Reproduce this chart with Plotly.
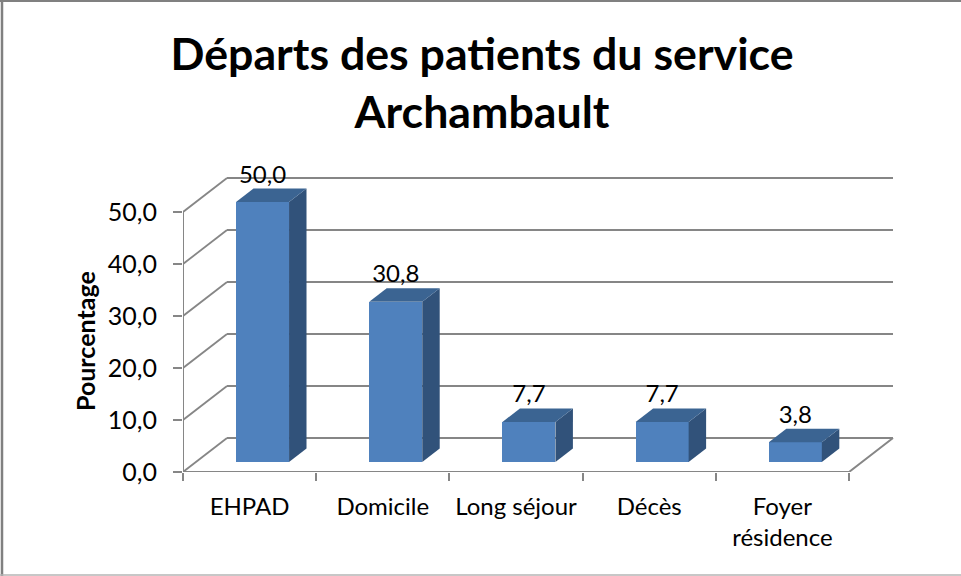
import plotly.graph_objects as go

categories = ["EHPAD", "Domicile", "Long séjour", "Décès", "Foyer<br>résidence"]
values = [50.0, 30.8, 7.7, 7.7, 3.8]
value_labels = ["50,0", "30,8", "7,7", "7,7", "3,8"]
y_ticks = [0, 10, 20, 30, 40, 50]
y_tick_labels = ["0,0", "10,0", "20,0", "30,0", "40,0", "50,0"]

# 3D projection of the wall, in axis units
DX = 44 / 133.2
DY = 34 / 5.2
BAR_W = 53 / 133.2
D0, D1 = 10 / 34, 23.5 / 34
N = len(categories)
GRID = "#868686"
FONT = "Lato, Carlito, sans-serif"
W, H = 961, 576
ML, MR, MT, MB = 183, 60, 170, 104


def proj(x, v, d):
    return x + d * DX, v + d * DY


def px(x):
    return (x - ML) / (W - ML - MR)


def py(y):
    return (H - MB - y) / (H - MT - MB)


fig = go.Figure()

# front faces
centers = [i + 0.5 for i in range(N)]
fig.add_trace(go.Bar(
    x=[proj(c, 0, D0)[0] for c in centers], y=values, base=[proj(0, 0, D0)[1]] * N,
    width=BAR_W, marker=dict(color="#4F81BD", line=dict(width=0)), hoverinfo="skip",
))

# side and top faces
for c, v in zip(centers, values):
    l, r = c - BAR_W / 2, c + BAR_W / 2
    side = [proj(r, 0, D0), proj(r, 0, D1), proj(r, v, D1), proj(r, v, D0)]
    top = [proj(l, v, D0), proj(l, v, D1), proj(r, v, D1), proj(r, v, D0)]
    for pts, col in ((side, "#31527A"), (top, "#3B6492")):
        fig.add_trace(go.Scatter(
            x=[p[0] for p in pts] + [pts[0][0]], y=[p[1] for p in pts] + [pts[0][1]],
            mode="lines", fill="toself", fillcolor=col, line=dict(width=0), hoverinfo="skip",
        ))

# value labels
fig.add_trace(go.Scatter(
    x=[proj(c, 0, D0)[0] for c in centers],
    y=[proj(0, v, D1)[1] for v in values],
    mode="text", text=value_labels, textposition="top center",
    textfont=dict(family=FONT, size=24, color="#000000"), cliponaxis=False, hoverinfo="skip",
))

# floor front edge, right floor edge and value axis line, unclipped
ex, ey = [], []
for pts in ([(0, 0), (N, 0), proj(N, 0, 1)], [(0, 0), (0, y_ticks[-1])]):
    ex += [p[0] for p in pts] + [None]
    ey += [p[1] for p in pts] + [None]
fig.add_trace(go.Scatter(x=ex, y=ey, mode="lines", line=dict(color=GRID, width=2),
                         cliponaxis=False, hoverinfo="skip"))

# walls: below the traces
shapes = []
for t in y_ticks:
    bx, by = proj(0, t, 1)
    shapes.append(dict(type="line", xref="x", yref="y", x0=0, y0=t, x1=bx, y1=by,
                       line=dict(color=GRID, width=1.8), layer="below"))
    ex2, _ = proj(N, t, 1)
    shapes.append(dict(type="line", xref="x", yref="y", x0=bx, y0=by, x1=ex2, y1=by,
                       line=dict(color=GRID, width=1.8), layer="below"))
# chart frame: left, top, bottom
for (x0, y0, x1, y1, col, wd) in ((2, 0, 2, 576, "#808080", 2.5),
                                  (0, 1, 961, 1, "#808080", 2),
                                  (0, 575, 961, 575, "#B4B4B4", 1.5)):
    shapes.append(dict(type="line", xref="paper", yref="paper", x0=px(x0), x1=px(x1),
                       y0=py(y0), y1=py(y1), line=dict(color=col, width=wd), layer="below"))

fig.update_layout(
    width=W, height=H, autosize=False,
    paper_bgcolor="white", plot_bgcolor="rgba(0,0,0,0)",
    showlegend=False, bargap=0, shapes=shapes,
    margin=dict(l=ML, r=MR, t=MT, b=MB, pad=0),
    font=dict(family=FONT, color="#000000"),
    title=dict(text="<b>Départs des patients du service<br>Archambault</b>",
               x=482 / W, xanchor="center", y=0.879, yanchor="top",
               font=dict(family=FONT, size=44.7, color="#000000")),
    xaxis=dict(
        range=[0, (W - ML - MR) / 133.2], tickmode="array", tickvals=centers, ticktext=categories,
        ticks="", showgrid=False, zeroline=False, showline=False,
        tickfont=dict(family=FONT, size=24, color="#000000"), ticklabelstandoff=18,
        minor=dict(tickmode="array", tickvals=list(range(N + 1)), ticks="outside",
                   ticklen=8, tickwidth=1.8, tickcolor=GRID, showgrid=False),
    ),
    yaxis=dict(
        range=[0, (H - MT - MB) / 5.2], tickmode="array", tickvals=y_ticks, ticktext=y_tick_labels,
        ticks="outside", ticklen=9, tickwidth=1.8, tickcolor=GRID,
        showgrid=False, zeroline=False, showline=False, ticklabelstandoff=11,
        tickfont=dict(family=FONT, size=25, color="#000000"),
    ),
    annotations=[dict(text="<b>Pourcentage</b>", xref="paper", yref="paper", x=px(85), y=py(341),
                      xanchor="center", yanchor="middle", textangle=-90, showarrow=False,
                      font=dict(family=FONT, size=25, color="#000000"))],
)

fig.write_html("out.html", config=dict(displayModeBar=False),
               post_script="document.body.style.margin='0';document.body.style.overflow='hidden';")
